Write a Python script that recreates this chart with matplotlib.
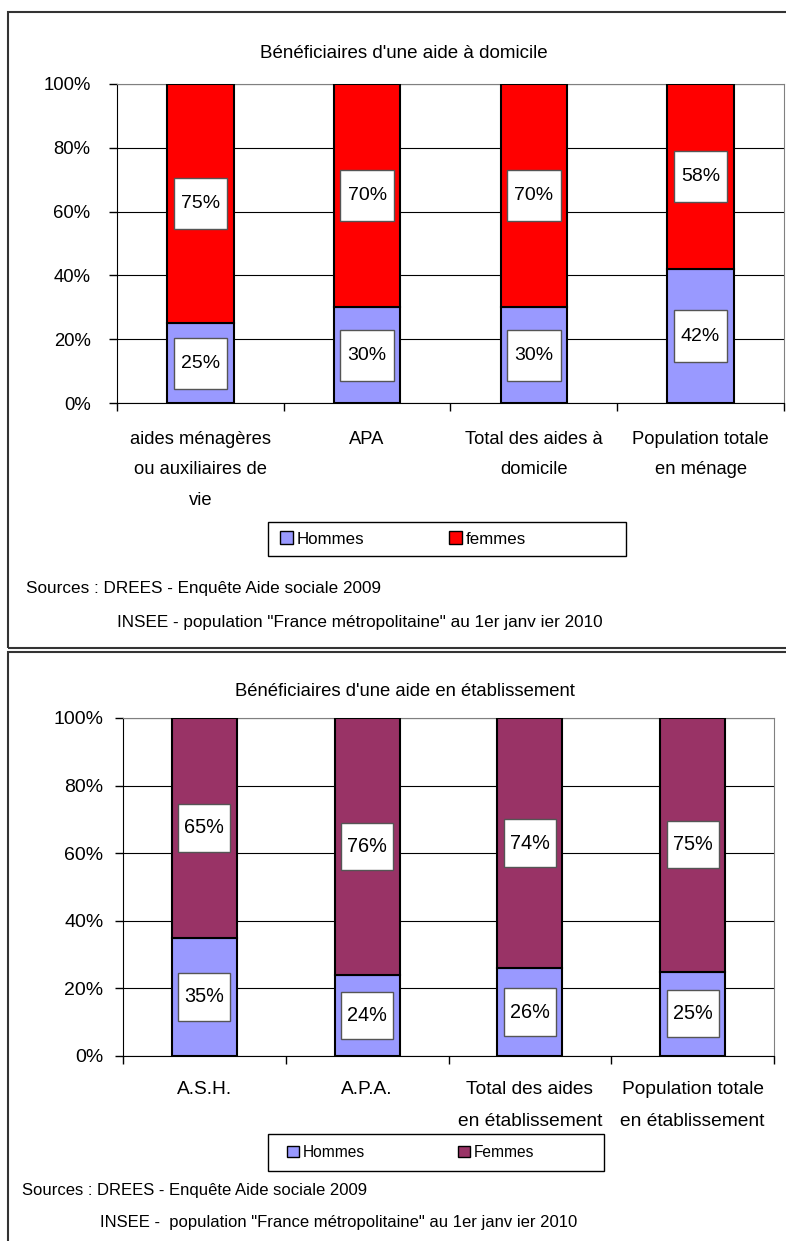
import matplotlib
matplotlib.use("Agg")
import matplotlib.pyplot as plt
from matplotlib.patches import Rectangle, Patch
from matplotlib.ticker import FixedLocator
import numpy as np

W, H = 786, 1241
plt.rcParams['font.family'] = ['Liberation Sans', 'DejaVu Sans']

# ---------------- data ----------------
top_title = "Bénéficiaires d'une aide à domicile"
top_categories = ["aides ménagères\nou auxiliaires de\nvie", "APA",
                  "Total des aides à\ndomicile", "Population totale\nen ménage"]
top_hommes = [25, 30, 30, 42]
top_femmes = [75, 70, 70, 58]
top_series = ["Hommes", "femmes"]

bot_title = "Bénéficiaires d'une aide en établissement"
bot_categories = ["A.S.H.", "A.P.A.", "Total des aides\nen établissement",
                  "Population totale\nen établissement"]
bot_hommes = [35, 24, 26, 25]
bot_femmes = [65, 76, 74, 75]
bot_series = ["Hommes", "Femmes"]

yticks = [0, 20, 40, 60, 80, 100]
ytick_labels = ["0%", "20%", "40%", "60%", "80%", "100%"]

top_sources = ["Sources : DREES - Enquête Aide sociale 2009",
               "INSEE - population \"France métropolitaine\" au 1er janv ier 2010"]
bot_sources = ["Sources : DREES - Enquête Aide sociale 2009",
               "INSEE -  population \"France métropolitaine\" au 1er janv ier 2010"]

col_hommes = "#9999FF"
col_femmes_top = "#FF0000"
col_femmes_bot = "#993366"


def frac(x0, y0, x1, y1):
    return [x0 / W, 1 - y1 / H, (x1 - x0) / W, (y1 - y0) / H]


fig = plt.figure(figsize=(W / 100, H / 100), dpi=100)
fig.patch.set_facecolor("white")


def panel(box, axbox, title, title_xy, title_fs, cats, hommes, femmes, cfem, names,
          tick_fs, cat_fs, cat_ls, val_fs, lab_h, ypad, xpad, legbox, leg_x, leg_fs,
          leg_colsp, sources, src_pos, src_fs):
    # panel frame
    x0, y0, x1, y1 = box
    fig.add_artist(Rectangle((x0 / W, 1 - y1 / H), (x1 - x0) / W, (y1 - y0) / H,
                             transform=fig.transFigure, fill=False, lw=1.5, ec="#333333"))
    ax = fig.add_axes(frac(*axbox))
    x = np.arange(len(cats))
    bw = 0.4
    ax.bar(x, hommes, width=bw, color=col_hommes, edgecolor="black", lw=1.5, zorder=3)
    ax.bar(x, femmes, width=bw, bottom=hommes, color=cfem, edgecolor="black", lw=1.5, zorder=3)
    lw_box = 0.32
    for xi, h, f in zip(x, hommes, femmes):
        for yc, v in ((h / 2, h), (h + f / 2, f)):
            ax.add_patch(Rectangle((xi - lw_box / 2, yc - lab_h / 2), lw_box, lab_h,
                                   fc="white", ec="#555555", lw=1, zorder=4))
            ax.text(xi, yc, f"{v}%", ha="center", va="center", fontsize=val_fs, zorder=5)
    ax.set_xlim(-0.5, len(cats) - 0.5)
    ax.set_ylim(0, 100)
    ax.set_yticks(yticks)
    ax.set_yticklabels(ytick_labels, fontsize=tick_fs)
    ax.set_xticks(x)
    ax.set_xticklabels(cats, fontsize=cat_fs, linespacing=cat_ls)
    ax.xaxis.set_minor_locator(FixedLocator(np.arange(len(cats) + 1) - 0.5))
    ax.tick_params(axis="x", which="major", length=0, pad=xpad)
    ax.tick_params(axis="x", which="minor", length=6, width=1, direction="out")
    ax.tick_params(axis="y", length=6, width=1, direction="out", pad=ypad)
    ax.yaxis.grid(True, color="black", lw=0.8)
    ax.set_axisbelow(True)
    for s in ("top", "right"):
        ax.spines[s].set_color("#808080")
    for s in ("left", "bottom"):
        ax.spines[s].set_color("black")
    fig.text(title_xy[0] / W, 1 - title_xy[1] / H, title,
             ha="center", va="center", fontsize=title_fs)
    # legend
    lx0, ly0, lx1, ly1 = legbox
    fig.add_artist(Rectangle((lx0 / W, 1 - ly1 / H), (lx1 - lx0) / W, (ly1 - ly0) / H,
                             transform=fig.transFigure, fill=True, fc="white", lw=1, ec="black"))
    handles = [Patch(facecolor=col_hommes, edgecolor="black", lw=1),
               Patch(facecolor=cfem, edgecolor="black", lw=1)]
    fig.legend(handles, names, loc="center left",
               bbox_to_anchor=(leg_x / W, 1 - (ly0 + ly1) / 2 / H), ncol=2,
               frameon=False, borderaxespad=0, borderpad=0,
               handlelength=0.75, handleheight=0.75, handletextpad=0.25,
               columnspacing=leg_colsp, fontsize=leg_fs)
    for (sx, sy), s in zip(src_pos, sources):
        fig.text(sx / W, 1 - sy / H, s, ha="left", va="center", fontsize=src_fs)
    return ax


panel(box=(8, 12, 800, 648), axbox=(117, 84, 784, 403), title=top_title,
      title_xy=(404, 53), title_fs=13.5,
      cats=top_categories, hommes=top_hommes, femmes=top_femmes, cfem=col_femmes_top,
      names=top_series, tick_fs=13.3, cat_fs=13.2, cat_ls=2.05, val_fs=14, lab_h=16,
      ypad=13, xpad=20, legbox=(268, 522, 626, 556), leg_x=280, leg_fs=12.2, leg_colsp=5.0,
      sources=top_sources, src_pos=[(26, 588), (117, 622)], src_fs=12.3)

panel(box=(8, 652, 800, 1260), axbox=(123, 718, 774, 1056), title=bot_title,
      title_xy=(405, 691), title_fs=13.3,
      cats=bot_categories, hommes=bot_hommes, femmes=bot_femmes, cfem=col_femmes_bot,
      names=bot_series, tick_fs=14, cat_fs=13.8, cat_ls=2.15, val_fs=14.3, lab_h=14,
      ypad=8, xpad=18, legbox=(268, 1134, 604, 1171), leg_x=287, leg_fs=11.2, leg_colsp=6.0,
      sources=bot_sources, src_pos=[(22, 1190), (100, 1222)], src_fs=12)

fig.savefig("out.png", dpi=100)
